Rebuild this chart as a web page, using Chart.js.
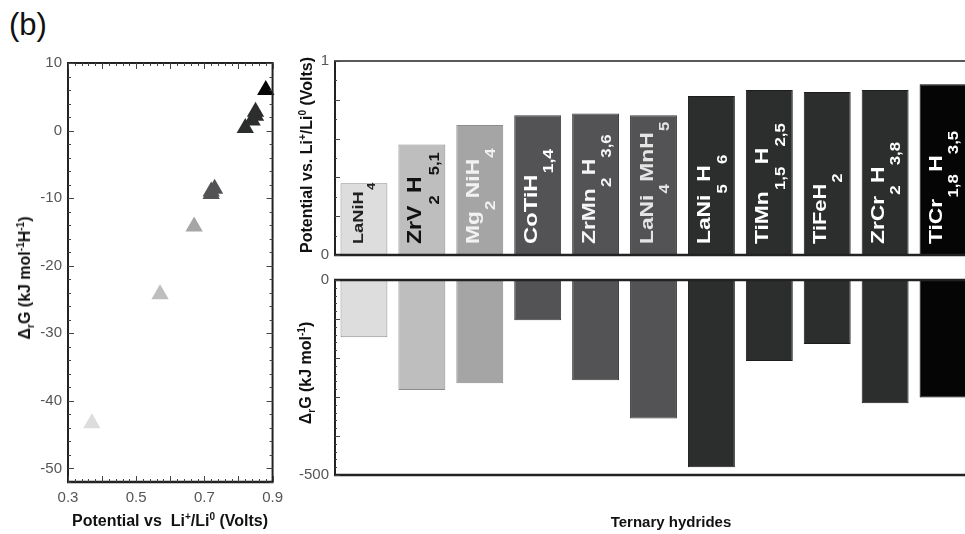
<!DOCTYPE html>
<html>
<head>
<meta charset="utf-8">
<script src="https://cdn.jsdelivr.net/npm/chart.js@4.4.0/dist/chart.umd.min.js"></script>
<style>
    html, body { margin: 0; padding: 0; background: #fff; overflow: hidden; width: 965px; height: 534px; }
    body { position: relative; font-family: "Liberation Sans", Arial, sans-serif; color: #111; }
    canvas { position: absolute; }
    .t { position: absolute; font-weight: bold; white-space: nowrap; font-size: 16px; line-height: 1; }
    .c { transform: translate(-50%, -50%); }
    .rot { transform: translate(-50%, -50%) rotate(-90deg); }
    sub, sup { font-size: 10px; line-height: 0; }
    #panel { position: absolute; left: 9px; top: 9px; font-size: 31px; line-height: 1; }
</style>
</head>
<body>
<div id="panel">(b)</div>
<canvas id="scatterChart" width="290" height="475" style="left:0;top:40px"></canvas>
<canvas id="potentialChart" width="682" height="230" style="left:290px;top:40px"></canvas>
<canvas id="gibbsChart" width="682" height="225" style="left:290px;top:265px"></canvas>

<div class="t rot" style="left:25px;top:278px">Δ<sub>r</sub>G (kJ mol<sup>-1</sup>H<sup>-1</sup>)</div>
<div class="t c" style="left:170px;top:521px">Potential vs&nbsp; Li<sup>+</sup>/Li<sup>0</sup> (Volts)</div>
<div class="t rot" style="left:307px;top:155px">Potential vs. Li<sup>+</sup>/Li<sup>0</sup> (Volts)</div>
<div class="t rot" style="left:306px;top:373px">Δ<sub>r</sub>G (kJ mol<sup>-1</sup>)</div>
<div class="t c" style="left:671px;top:521px;font-size:15px">Ternary hydrides</div>

<script>
// data
const hydrides = ['LaNiH4', 'ZrV2H5,1', 'Mg2NiH4', 'CoTiH1,4', 'ZrMn2H3,6', 'LaNi4MnH5',
    'LaNi5H6', 'TiMn1,5H2,5', 'TiFeH2', 'ZrCr2H3,8', 'TiCr1,8H3,5'];
const potential = [0.37, 0.57, 0.67, 0.72, 0.73, 0.72, 0.82, 0.85, 0.84, 0.85, 0.88];
const gibbsPerH = [-43.3, -24.2, -14.2, -9.4, -8.6, -9.0, 0.4, 2.8, 1.5, 2.2, 6.0];
const gibbsTotal = [-147, -282, -265, -103, -257, -355, -480, -208, -164, -316, -301];

const scatterXTicks = [0.3, 0.5, 0.7, 0.9];
const scatterYTicks = [-50, -40, -30, -20, -10, 0, 10];
const potentialTicks = [0, 1];
const gibbsTicks = [-500, 0];

// styles
const fills = ['#dcdddc', '#bebebe', '#a5a5a5', '#535355', '#535355', '#535355',
    '#2c2d2d', '#2c2d2d', '#2c2d2d', '#2c2d2d', '#050505'];
const edges = ['#8c8c8c', '#8c8c8c', '#8c8c8c', '#3c3c3e', '#3c3c3e', '#3c3c3e',
    '#1c1c1c', '#1c1c1c', '#1c1c1c', '#1c1c1c', '#000'];
const labelColors = ['#222', '#111', '#f2f2f2', '#fff', '#f4f4f4', '#e4e4e4',
    '#fff', '#fff', '#fff', '#fff', '#fff'];
const labelSizes = [14, 21, 19, 19, 19, 19, 19, 19, 19, 19, 19];
const labelStretch = [1.3, 1.1, 1.2, 1.25, 1.2, 1.2, 1.2, 1.2, 1.15, 1.2, 1.2];

const FONT = '"Liberation Sans", Arial, sans-serif';
const tickFont = { family: FONT, size: 15 };
const tickColor = '#555';

function steps(from, to, step) {
    const out = [];
    for (let v = from; v <= to + step / 1000; v += step) out.push(+v.toFixed(4));
    return out;
}

// box lines + inward tick marks
const framePlugin = {
    id: 'frame',
    afterDraw(chart, args, opts) {
        const ctx = chart.ctx;
        const a = chart.chartArea;
        ctx.save();
        ctx.strokeStyle = '#222';
        const lines = opts.lines || {};
        if (lines.left) { ctx.lineWidth = lines.left; ctx.beginPath(); ctx.moveTo(a.left, a.top); ctx.lineTo(a.left, a.bottom); ctx.stroke(); }
        if (lines.right) { ctx.lineWidth = lines.right; ctx.beginPath(); ctx.moveTo(a.right, a.top); ctx.lineTo(a.right, a.bottom); ctx.stroke(); }
        if (lines.top) { ctx.lineWidth = lines.top; ctx.beginPath(); ctx.moveTo(a.left - 1, a.top); ctx.lineTo(a.right + 1, a.top); ctx.stroke(); }
        if (lines.bottom) { ctx.lineWidth = lines.bottom; ctx.beginPath(); ctx.moveTo(a.left - 1, a.bottom); ctx.lineTo(a.right + 1, a.bottom); ctx.stroke(); }

        ctx.lineWidth = 1;
        ctx.strokeStyle = '#444';
        (opts.marks || []).forEach(m => {
            const scale = chart.scales[m.axis];
            m.values.forEach(v => {
                const p = Math.round(scale.getPixelForValue(v)) + 0.5;
                ctx.beginPath();
                m.sides.forEach(side => {
                    if (side === 'left') { ctx.moveTo(a.left, p); ctx.lineTo(a.left + m.len, p); }
                    if (side === 'right') { ctx.moveTo(a.right, p); ctx.lineTo(a.right - m.len, p); }
                    if (side === 'bottom') { ctx.moveTo(p, a.bottom); ctx.lineTo(p, a.bottom - m.len); }
                    if (side === 'top') { ctx.moveTo(p, a.top); ctx.lineTo(p, a.top + m.len); }
                });
                ctx.stroke();
            });
        });
        ctx.restore();
    }
};

// rotated formula labels inside the potential bars (digits become subscripts)
const formulaPlugin = {
    id: 'formulas',
    afterDatasetsDraw(chart) {
        const ctx = chart.ctx;
        const meta = chart.getDatasetMeta(0);
        meta.data.forEach((bar, i) => {
            const parts = hydrides[i].match(/[0-9,]+|[^0-9,]+/g);
            const size = labelSizes[i];
            const subSize = Math.round(size * 0.72);
            ctx.save();
            ctx.translate(bar.x, bar.base - 11);
            ctx.rotate(-Math.PI / 2);
            ctx.scale(labelStretch[i], 1);
            ctx.fillStyle = labelColors[i];
            ctx.textBaseline = 'alphabetic';
            let pos = 0;
            parts.forEach(p => {
                const isSub = /^[0-9,]/.test(p);
                ctx.font = 'bold ' + (isSub ? subSize : size) + 'px ' + FONT;
                if (isSub) pos += 1;
                ctx.fillText(p, pos, isSub ? size * 0.8 : -1);
                pos += ctx.measureText(p).width + (isSub ? 2 : 0);
            });
            ctx.restore();
        });
    }
};

const common = {
    responsive: false,
    animation: false,
    events: [],
    plugins: { legend: { display: false }, tooltip: { enabled: false } }
};

new Chart(document.getElementById('scatterChart'), {
    type: 'scatter',
    data: {
        datasets: [{
            data: potential.map((x, i) => ({ x: x, y: gibbsPerH[i] })),
            pointStyle: 'triangle',
            pointRadius: 10,
            pointBorderWidth: 0,
            pointBackgroundColor: fills,
            pointBorderColor: fills,
            clip: false
        }]
    },
    options: {
        ...common,
        layout: { padding: { top: 23, right: 15, bottom: 8, left: 0 } },
        plugins: {
            ...common.plugins,
            frame: {
                lines: { left: 2, right: 2, top: 2, bottom: 2.5 },
                marks: [
                    { axis: 'y', values: steps(-50, 10, 10), len: 6, sides: ['left', 'right'] },
                    { axis: 'y', values: steps(-52, 10, 2), len: 3, sides: ['left', 'right'] },
                    { axis: 'x', values: steps(0.3, 0.9, 0.1), len: 6, sides: ['top', 'bottom'] },
                    { axis: 'x', values: steps(0.3, 0.9, 0.02), len: 3, sides: ['top', 'bottom'] }
                ]
            }
        },
        scales: {
            x: {
                type: 'linear', min: 0.3, max: 0.9,
                grid: { display: false, drawTicks: false },
                border: { display: false },
                afterBuildTicks: s => { s.ticks = scatterXTicks.map(v => ({ value: v })); },
                afterFit: s => { s.height = 25; },
                ticks: { autoSkip: false, maxRotation: 0, padding: 7, color: tickColor, font: tickFont, callback: v => v.toFixed(1) }
            },
            y: {
                min: -52, max: 10,
                grid: { display: false, drawTicks: false },
                border: { display: false },
                afterBuildTicks: s => { s.ticks = scatterYTicks.map(v => ({ value: v })); },
                afterFit: s => { s.width = 68; },
                ticks: { autoSkip: false, padding: 6, color: tickColor, font: tickFont }
            }
        }
    },
    plugins: [framePlugin]
});

new Chart(document.getElementById('potentialChart'), {
    type: 'bar',
    data: {
        labels: hydrides,
        datasets: [{
            data: potential,
            backgroundColor: fills,
            borderColor: edges,
            borderWidth: 1,
            barPercentage: 0.81,
            categoryPercentage: 1
        }]
    },
    options: {
        ...common,
        layout: { padding: { top: 21, right: 0, bottom: 6, left: 0 } },
        plugins: {
            ...common.plugins,
            frame: {
                lines: { left: 2, top: 1.5, bottom: 2.5 },
                marks: [
                    { axis: 'y', values: steps(0, 1, 0.2), len: 5, sides: ['left'] },
                    { axis: 'y', values: steps(0, 1, 0.1), len: 2, sides: ['left'] }
                ]
            }
        },
        scales: {
            x: { display: false },
            y: {
                min: 0, max: 1,
                grid: { display: false, drawTicks: false },
                border: { display: false },
                afterBuildTicks: s => { s.ticks = potentialTicks.map(v => ({ value: v })); },
                afterFit: s => { s.width = 45; },
                ticks: { autoSkip: false, padding: 6, color: tickColor, font: tickFont }
            }
        }
    },
    plugins: [framePlugin, formulaPlugin]
});

new Chart(document.getElementById('gibbsChart'), {
    type: 'bar',
    data: {
        labels: hydrides,
        datasets: [{
            data: gibbsTotal,
            backgroundColor: fills,
            borderColor: edges,
            borderWidth: 1,
            barPercentage: 0.81,
            categoryPercentage: 1
        }]
    },
    options: {
        ...common,
        layout: { padding: { top: 13, right: 0, bottom: 8, left: 0 } },
        plugins: {
            ...common.plugins,
            frame: {
                lines: { left: 2, top: 2.5, bottom: 2.5 },
                marks: [
                    { axis: 'y', values: steps(-500, 0, 100), len: 5, sides: ['left'] },
                    { axis: 'y', values: steps(-500, 0, 20), len: 2, sides: ['left'] }
                ]
            }
        },
        scales: {
            x: { display: false },
            y: {
                min: -500, max: 0,
                grid: { display: false, drawTicks: false },
                border: { display: false },
                afterBuildTicks: s => { s.ticks = gibbsTicks.map(v => ({ value: v })); },
                afterFit: s => { s.width = 45; },
                ticks: { autoSkip: false, padding: 6, color: tickColor, font: tickFont }
            }
        }
    },
    plugins: [framePlugin]
});
</script>
</body>
</html>
